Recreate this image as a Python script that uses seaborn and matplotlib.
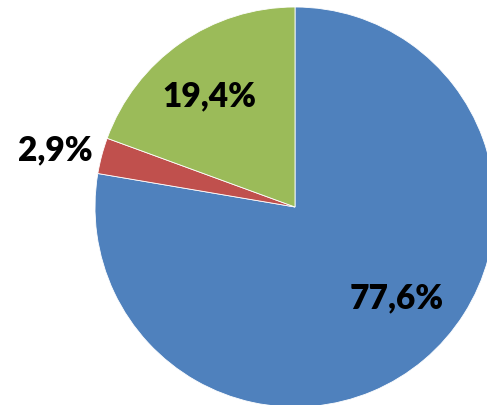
import numpy as np
import seaborn as sns
import matplotlib.pyplot as plt

# slice shares (percent), drawn clockwise from 12 o'clock
shares = [77.6, 2.9, 19.4]
slice_colors = ['#4F81BD', '#C0504D', '#9BBB59']

sns.set_style('white')
plt.rcParams['font.family'] = ['Lato', 'DejaVu Sans']

fig = plt.figure(figsize=(4.87, 4.05), dpi=100)
ax = fig.add_axes([0, 0, 1, 1])

wedges, _ = ax.pie(shares, colors=sns.color_palette(slice_colors), startangle=90,
                   counterclock=False, radius=1.0,
                   wedgeprops=dict(linewidth=0.6, edgecolor='white'))

# label distance from centre for each slice
label_dist = [0.685, 1.23, 0.70]
label_shift = [8.0, 1.5, 3.0]  # small angular nudge, degrees
for w, v, d, s in zip(wedges, shares, label_dist, label_shift):
    mid = np.deg2rad((w.theta1 + w.theta2) / 2 + s)
    ax.text(d * np.cos(mid), d * np.sin(mid), f'{v:.1f}%'.replace('.', ','),
            ha='center', va='center', fontsize=24, fontweight='heavy', color='black')

ax.set_xlim(-1.475, 0.96)
ax.set_ylim(-0.99, 1.035)
ax.set_aspect('equal')
ax.axis('off')

fig.savefig('out.png', dpi=100, facecolor='white')
